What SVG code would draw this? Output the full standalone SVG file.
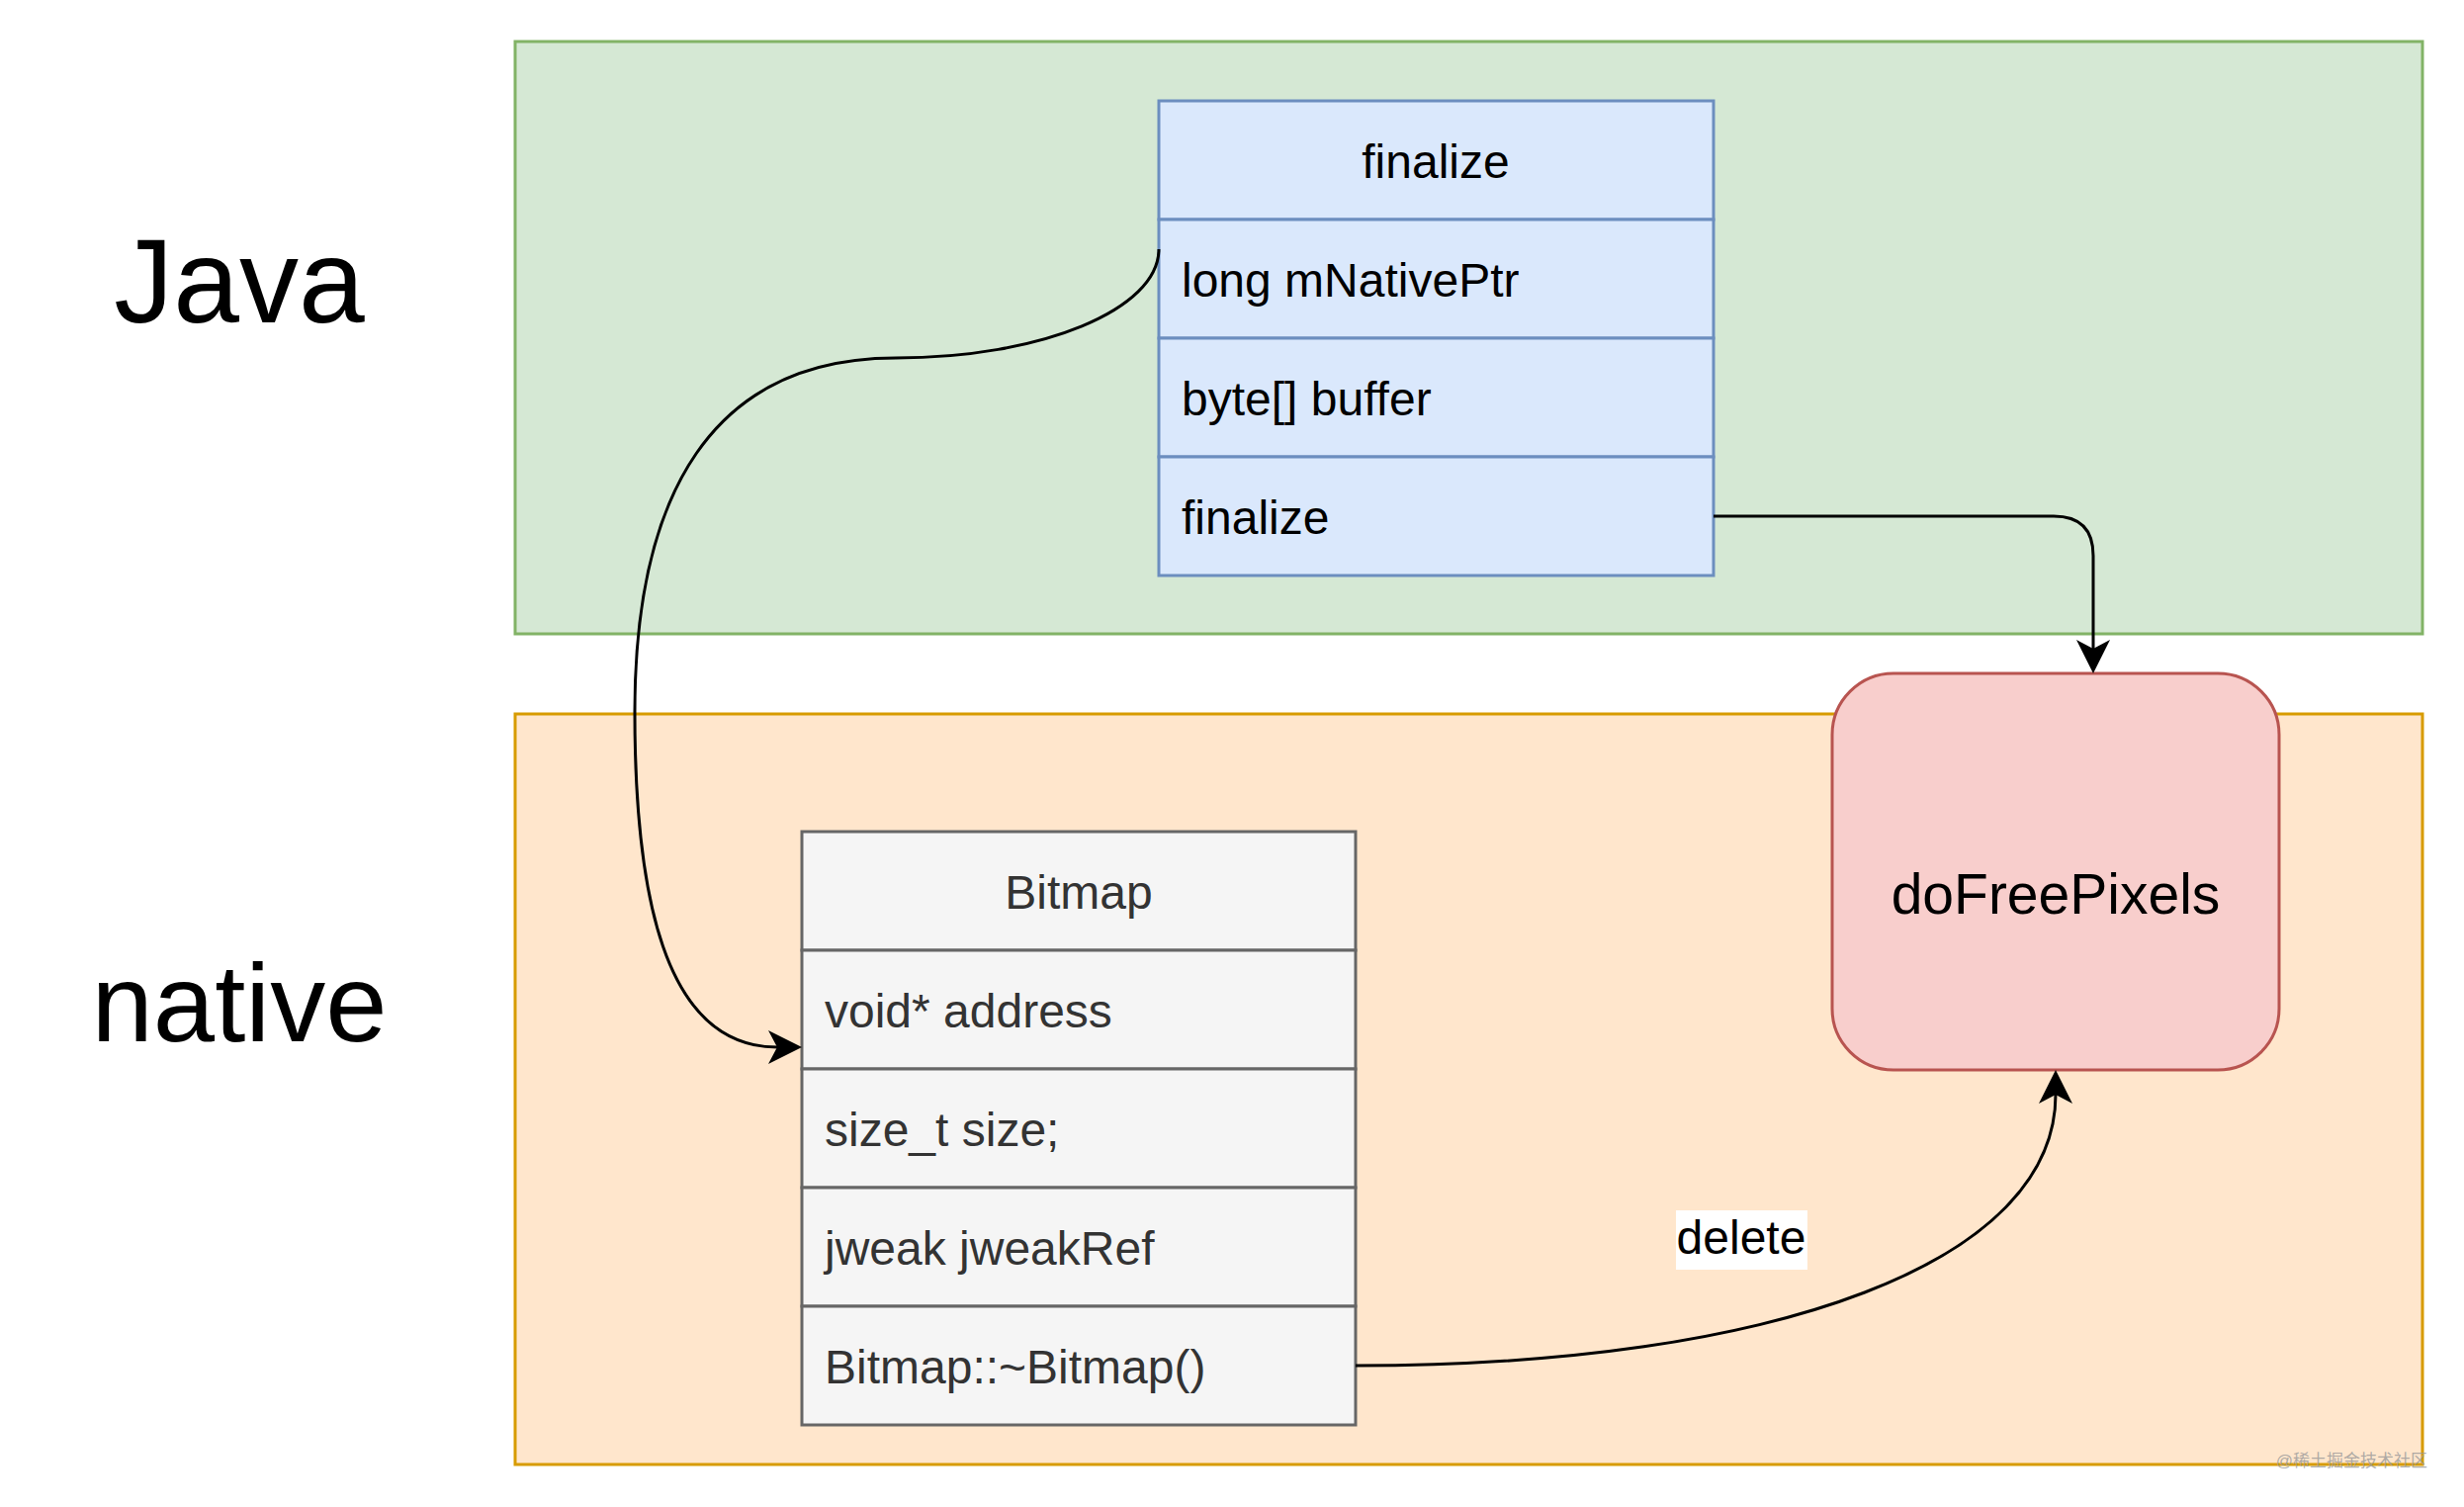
<svg xmlns="http://www.w3.org/2000/svg" width="2492" height="1524" viewBox="0 0 2492 1524">
<style>
text{font-family:"Liberation Sans",Arial,Helvetica,sans-serif}
.zone-j{fill:#d5e8d4;stroke:#82b366;stroke-width:3}
.zone-n{fill:#ffe6cc;stroke:#d79b00;stroke-width:3}
.jrow{fill:#dae8fc;stroke:#6c8ebf;stroke-width:3}
.nrow{fill:#f5f5f5;stroke:#666666;stroke-width:3}
.big{font-size:120px;fill:#000}
.t48{font-size:48px;fill:#000}
.g48{font-size:48px;fill:#333333}
.edge{fill:none;stroke:#000;stroke-width:3}
</style>
<defs>
<marker id="arr" markerUnits="userSpaceOnUse" markerWidth="40" markerHeight="40" viewBox="-2 -20 40 40" refX="9" refY="0" orient="auto">
<path d="M0,-17 L34,0 L0,17 L9,0 Z" fill="#000"/>
</marker>
</defs>
<rect width="2492" height="1524" fill="#ffffff"/>
<g id="zone-java">
<rect class="zone-j" x="521" y="42" width="1929" height="599"/>
</g>
<g id="zone-native">
<rect class="zone-n" x="521" y="722" width="1929" height="759"/>
</g>
<g id="label-java"><text class="big" x="242" y="326" text-anchor="middle">Java</text></g>
<g id="label-native"><text class="big" x="242" y="1053" text-anchor="middle" style="font-size:112px">native</text></g>
<g id="java-class">
<rect class="jrow" x="1172" y="102" width="561" height="120"/>
<rect class="jrow" x="1172" y="222" width="561" height="120"/>
<rect class="jrow" x="1172" y="342" width="561" height="120"/>
<rect class="jrow" x="1172" y="462" width="561" height="120"/>
<text class="t48" x="1452" y="180" text-anchor="middle">finalize</text>
<text class="t48" x="1195" y="300">long mNativePtr</text>
<text class="t48" x="1195" y="420">byte[] buffer</text>
<text class="t48" x="1195" y="540">finalize</text>
</g>
<g id="bitmap-class">
<rect class="nrow" x="811" y="841" width="560" height="120"/>
<rect class="nrow" x="811" y="961" width="560" height="120"/>
<rect class="nrow" x="811" y="1081" width="560" height="120"/>
<rect class="nrow" x="811" y="1201" width="560" height="120"/>
<rect class="nrow" x="811" y="1321" width="560" height="120"/>
<text class="g48" x="1091" y="919" text-anchor="middle">Bitmap</text>
<text class="g48" x="834" y="1039">void* address</text>
<text class="g48" x="834" y="1159">size_t size;</text>
<text class="g48" x="834" y="1279">jweak jweakRef</text>
<text class="g48" x="834" y="1399">Bitmap::~Bitmap()</text>
</g>
<g id="doFreePixels">
<rect x="1853" y="681" width="452" height="401" rx="62" ry="62" fill="#f8cecc" stroke="#b85450" stroke-width="3"/>
<text x="2079" y="924" text-anchor="middle" font-size="57" fill="#000">doFreePixels</text>
</g>
<g id="connectors">
<path class="edge" d="M1172,252 C1172,313 1053,362 906,362 C720,362 642,500 642,720 C642,900 670,1059 786,1059" marker-end="url(#arr)"/>
<path class="edge" d="M1733,522 L2077,522 Q2117,522 2117,562 L2117,656" marker-end="url(#arr)"/>
<path class="edge" d="M1371,1381 C1800,1381 2079,1275 2079,1107" marker-end="url(#arr)"/>
<rect x="1695" y="1224" width="133" height="60" fill="#ffffff"/>
<text class="t48" x="1761" y="1268" text-anchor="middle">delete</text>
</g>
<text x="2455" y="1483" text-anchor="end" font-size="17" fill="#999999" fill-opacity="0.8" style="font-family:'Liberation Sans','Noto Sans CJK SC',sans-serif">@稀土掘金技术社区</text>
</svg>
